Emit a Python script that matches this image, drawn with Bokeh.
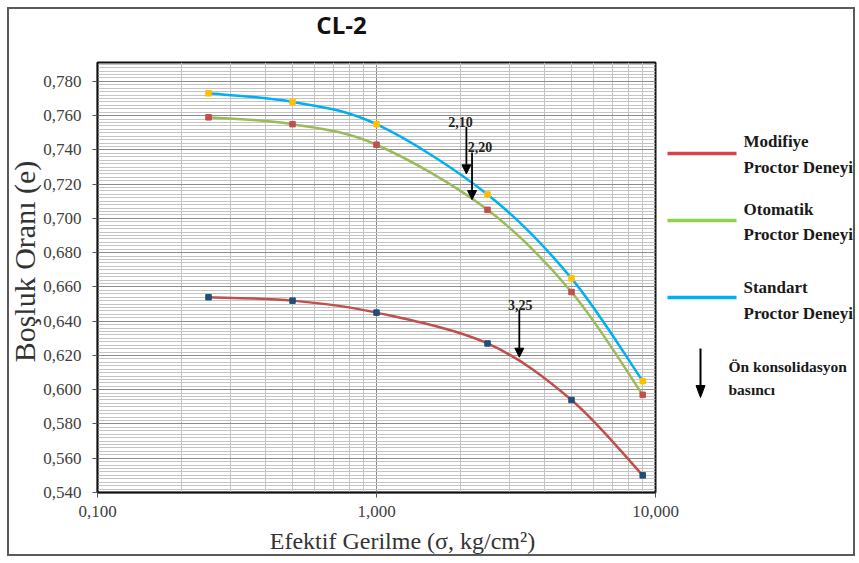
import math
from bokeh.plotting import figure
from bokeh.models import (Range1d, FixedTicker, SingleIntervalTicker, CustomJSTickFormatter,
                          Label, Arrow, NormalHead)
from bokeh.core.properties import value
from bokeh.embed import file_html
from bokeh.resources import INLINE

# ---------------- data ----------------
sigma = [0.25, 0.5, 1.0, 2.5, 5.0, 9.0]
e_modifiye = [0.654, 0.652, 0.645, 0.627, 0.594, 0.550]
e_otomatik = [0.759, 0.755, 0.743, 0.705, 0.657, 0.597]
e_standart = [0.773, 0.768, 0.755, 0.714, 0.665, 0.605]

series_names = ["Modifiye\nProctor Deneyi", "Otomatik\nProctor Deneyi", "Standart\nProctor Deneyi"]

x_ticks = [0.1, 1.0, 10.0]
x_minor_ticks = [0.2, 0.3, 0.4, 0.5, 0.6, 0.7, 0.8, 0.9, 2, 3, 4, 5, 6, 7, 8, 9]

arrow_sigma = [2.10, 2.20, 3.25]
arrow_tip_e = [0.726, 0.711, 0.619]
arrow_labels = ["2,10", "2,20", "3,25"]

title_text = "CL-2"
x_title = "Efektif Gerilme (σ, kg/cm²)"
y_title = "Boşluk Oranı (e)"
note_text = "Ön konsolidasyon\nbasıncı"

# ---------------- layout constants ----------------
W, H = 848, 549
ML, MT, MR, MB = 88, 53, 202, 66
X0, X1 = 0.1, 10.0
Y0, Y1 = 0.54, 0.791
FL, FT = 9 + ML, 9 + MT
FR, FB = 9 + W - MR, 9 + H - MB

# page pixel -> data coordinates (for decorations drawn outside the frame)
def px2x(px):
    lo, hi = math.log10(X0), math.log10(X1)
    return 10 ** (lo + (px - FL) / (FR - FL) * (hi - lo))

def py2y(py):
    return Y0 + (FB - py) / (FB - FT) * (Y1 - Y0)

SERIF = "Liberation Serif"

p = figure(width=W, height=H, x_axis_type="log", output_backend="svg",
           toolbar_location=None, x_range=Range1d(X0, X1), y_range=Range1d(Y0, Y1),
           min_border_left=ML, min_border_top=MT, min_border_right=MR, min_border_bottom=MB,
           background_fill_color="white", border_fill_color="white")
p.styles = {"border": "2px solid #5a5a5a", "margin-left": "7px", "margin-top": "7px"}
p.outline_line_color = "#111111"
p.outline_line_width = 2

fmt = CustomJSTickFormatter(code="return tick.toFixed(3).replace('.', ',');")

p.xaxis.ticker = FixedTicker(ticks=x_ticks, minor_ticks=x_minor_ticks)
p.yaxis.ticker = SingleIntervalTicker(interval=0.02, num_minor_ticks=10)
for ax in (p.xaxis[0], p.yaxis[0]):
    ax.formatter = fmt
    ax.axis_line_color = "#111111"
    ax.axis_line_width = 1.5
    ax.major_tick_out = 5
    ax.major_tick_in = 0
    ax.minor_tick_out = 0
    ax.minor_tick_in = 0
    ax.major_tick_line_color = "#555555"
    ax.major_label_text_font = SERIF
    ax.major_label_text_font_size = "17px"
    ax.major_label_text_color = "#404040"
p.yaxis.major_label_standoff = 11
p.xaxis.major_label_standoff = 8

p.xgrid.grid_line_color = "#8c8c8c"
p.ygrid.grid_line_color = "#8c8c8c"
p.xgrid.minor_grid_line_color = "#c4c4c4"
p.ygrid.minor_grid_line_color = "#c4c4c4"

# ---------------- smooth curves (Excel-like smoothing) ----------------
def bezier_parts(xs, ys):
    lx = [math.log10(v) for v in xs]
    n = len(xs)
    out = {k: [] for k in ("x0", "y0", "x1", "y1", "cx0", "cy0", "cx1", "cy1")}
    for i in range(n - 1):
        i0 = i - 1 if i > 0 else i
        i3 = i + 2 if i + 2 < n else i + 1
        c1x = lx[i] + (lx[i + 1] - lx[i0]) / 6
        c1y = ys[i] + (ys[i + 1] - ys[i0]) / 6
        c2x = lx[i + 1] - (lx[i3] - lx[i]) / 6
        c2y = ys[i + 1] - (ys[i3] - ys[i]) / 6
        out["x0"].append(xs[i]); out["y0"].append(ys[i])
        out["x1"].append(xs[i + 1]); out["y1"].append(ys[i + 1])
        out["cx0"].append(10 ** c1x); out["cy0"].append(c1y)
        out["cx1"].append(10 ** c2x); out["cy1"].append(c2y)
    return out

curve_colors = ["#c0504d", "#9bbb59", "#00b0f0"]
marker_colors = ["#1f4e79", "#c0504d", "#ffc000"]
legend_colors = ["#d9424a", "#92d050", "#00b0f0"]
all_series = [e_modifiye, e_otomatik, e_standart]

for ys, cc in zip(all_series, curve_colors):
    p.bezier(line_color=cc, line_width=2.5, **bezier_parts(sigma, ys))
for ys, mc in zip(all_series, marker_colors):
    p.scatter(sigma, ys, marker="square", size=5.5, fill_color=mc, line_color=mc)

# ---------------- pre-consolidation arrows ----------------
ARROW_LEN = 0.0275
for sx, tip in zip(arrow_sigma, arrow_tip_e):
    p.add_layout(Arrow(end=NormalHead(size=9, fill_color="black", line_color="black"),
                       x_start=sx, y_start=tip + ARROW_LEN, x_end=sx, y_end=tip,
                       line_color="black", line_width=1.8))
label_dx = [-6, 8, 1]
label_dy = [0, 0, 0]
for sx, tip, lab, dx, dy in zip(arrow_sigma, arrow_tip_e, arrow_labels, label_dx, label_dy):
    p.add_layout(Label(x=sx, y=tip + ARROW_LEN, text=lab, x_offset=dx, y_offset=dy,
                       text_align="center", text_baseline="bottom",
                       text_font=SERIF, text_font_style="bold", text_font_size="14px",
                       text_color="#222222"))

# ---------------- titles (overlay-level text glyphs, drawn outside the frame) ----------------
def deco_text(px, py, txt, font, size, bold=False, align="center", angle=0.0,
              color="#333333", lh=1.2):
    p.text(x=[px2x(px)], y=[py2y(py)], text=[txt], angle=angle,
           text_font=value(font), text_font_size=value(size),
           text_font_style="bold" if bold else "normal", text_color=color,
           text_align=align, text_baseline="middle", text_line_height=lh,
           level="overlay")

deco_text(341, 24, title_text, "Open Sans", "24px", bold=True, color="#111111", lh=1.0)
deco_text(402, 540, x_title, SERIF, "24px", lh=1.0)
deco_text(24, 261, y_title, SERIF, "30px", angle=math.pi / 2, lh=1.0)

# ---------------- legend (manual, outside the frame) ----------------
leg_line_y = [153, 220, 297]
leg_text_y = [154, 221.5, 300]
for name, col, ly, ty in zip(series_names, legend_colors, leg_line_y, leg_text_y):
    p.segment(x0=[px2x(667)], y0=[py2y(ly)], x1=[px2x(736)], y1=[py2y(ly)],
              line_color=col, line_width=3.5, level="overlay")
    deco_text(743, ty, name, SERIF, "17px", bold=True, align="left", color="#1a1a1a", lh=1.35)

p.segment(x0=[px2x(700)], y0=[py2y(348)], x1=[px2x(700)], y1=[py2y(390)],
          line_color="black", line_width=2, level="overlay")
p.patch(x=[px2x(695.5), px2x(704.5), px2x(700)], y=[py2y(385), py2y(385), py2y(397)],
        fill_color="black", line_color="black", level="overlay")
deco_text(728, 377.5, note_text, SERIF, "15.5px", bold=True, align="left", color="#1a1a1a",
          lh=1.3)

open("out.html", "w").write(file_html(p, INLINE))
